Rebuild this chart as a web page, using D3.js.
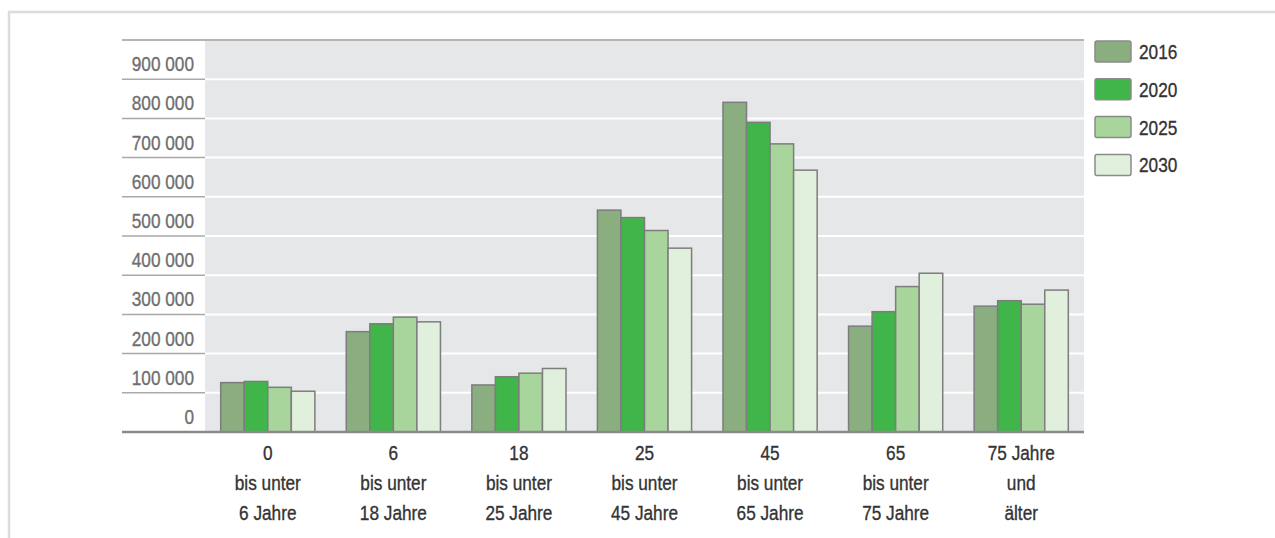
<!DOCTYPE html>
<html>
<head>
<meta charset="utf-8">
<script src="https://cdn.jsdelivr.net/npm/d3@7/dist/d3.min.js"></script>
<style>
  html, body { margin: 0; padding: 0; background: #fff; }
  svg { display: block; }
  text { font-family: "Liberation Sans", Arial, sans-serif; }
</style>
</head>
<body>
<svg id="chart" width="1275" height="538"></svg>
<script>
// Age groups (x axis, three lines each)
const categories = ["0–6", "6–18", "18–25", "25–45", "45–65", "65–75", "75+"];
const categoryLabels = [
  ["0", "bis unter", "6 Jahre"],
  ["6", "bis unter", "18 Jahre"],
  ["18", "bis unter", "25 Jahre"],
  ["25", "bis unter", "45 Jahre"],
  ["45", "bis unter", "65 Jahre"],
  ["65", "bis unter", "75 Jahre"],
  ["75 Jahre", "und", "älter"]
];

// Years shown as series
const years = ["2016", "2020", "2025", "2030"];

// Population per age group and year
const values2016 = [126000, 256000, 120000, 566000, 841000, 270000, 321000];
const values2020 = [129000, 276000, 141000, 547000, 790000, 307000, 335000];
const values2025 = [114000, 293000, 150000, 514000, 735000, 371000, 326000];
const values2030 = [104000, 281000, 162000, 469000, 668000, 405000, 362000];

// Y axis ticks
const yTicks = [0, 100000, 200000, 300000, 400000, 500000, 600000, 700000, 800000, 900000];
const yTickLabels = ["0", "100 000", "200 000", "300 000", "400 000", "500 000", "600 000", "700 000", "800 000", "900 000"];

const seriesValues = [values2016, values2020, values2025, values2030];
const colors = ["#8aae7f", "#40b549", "#a8d59b", "#e1f0dc"];

// condensed lettering: horizontal squeeze applied around each text anchor
const squeeze = 0.84;
const fontSize = 20.5;

const svg = d3.select("#chart");

function label(parent, xPos, yPos, str, anchor, fill) {
  return parent.append("g")
    .attr("transform", `translate(${xPos},${yPos}) scale(${squeeze},1)`)
    .append("text")
    .attr("text-anchor", anchor)
    .attr("font-size", fontSize)
    .attr("fill", fill)
    .attr("stroke", fill)
    .attr("stroke-width", 0.35)
    .text(str);
}

// frame
svg.append("line").attr("x1", 8).attr("x2", 1275).attr("y1", 12).attr("y2", 12)
  .attr("stroke", "#dcdcdc").attr("stroke-width", 2.5);
svg.append("line").attr("x1", 9).attr("x2", 9).attr("y1", 11).attr("y2", 538)
  .attr("stroke", "#dcdcdc").attr("stroke-width", 2.5);

const labelLeft = 122, plotLeft = 205, plotRight = 1084;

const y = d3.scaleLinear().domain([0, 1000000]).range([432, 40]);
const x = d3.scaleBand().domain(categories).range([plotLeft, plotRight])
  .paddingInner(0.25).paddingOuter(0.125);
const xs = d3.scaleBand().domain(years).range([0, x.bandwidth()]);

// plot background
svg.append("rect").attr("x", plotLeft).attr("y", y(1000000))
  .attr("width", plotRight - plotLeft).attr("height", y(0) - y(1000000))
  .attr("fill", "#e6e7e9");

// white gridlines inside plot
svg.append("g").selectAll("line").data(yTicks.filter(d => d > 0)).join("line")
  .attr("x1", plotLeft).attr("x2", plotRight)
  .attr("y1", d => y(d)).attr("y2", d => y(d))
  .attr("stroke", "#ffffff").attr("stroke-width", 2);

// separator lines in label column
svg.append("g").selectAll("line").data(yTicks.filter(d => d > 0)).join("line")
  .attr("x1", labelLeft).attr("x2", plotLeft)
  .attr("y1", d => y(d)).attr("y2", d => y(d))
  .attr("stroke", "#a9a9a9").attr("stroke-width", 1.5);

// top line
svg.append("line").attr("x1", labelLeft).attr("x2", plotRight)
  .attr("y1", y(1000000)).attr("y2", y(1000000))
  .attr("stroke", "#b4b4b4").attr("stroke-width", 2);

// y tick labels (sitting above their line)
const yLabels = svg.append("g");
yTicks.forEach((d, i) => label(yLabels, 194, y(d) - 8, yTickLabels[i], "end", "#6f6f6f"));

// bars
const groups = svg.append("g").selectAll("g").data(categories).join("g")
  .attr("transform", d => `translate(${x(d)},0)`);
groups.selectAll("rect")
  .data((c, ci) => years.map((yr, si) => ({ yr, si, v: seriesValues[si][ci] })))
  .join("rect")
  .attr("x", d => xs(d.yr))
  .attr("y", d => y(d.v))
  .attr("width", xs.bandwidth())
  .attr("height", d => y(0) - y(d.v))
  .attr("fill", d => colors[d.si])
  .attr("stroke", "#7d7d7d")
  .attr("stroke-width", 1.5);

// baseline
svg.append("line").attr("x1", labelLeft).attr("x2", plotRight)
  .attr("y1", y(0)).attr("y2", y(0))
  .attr("stroke", "#8a8a8a").attr("stroke-width", 2.5);

// x labels
const xLabels = svg.append("g");
categories.forEach((c, i) => {
  categoryLabels[i].forEach((line, li) => {
    label(xLabels, x(c) + x.bandwidth() / 2, 460 + li * 30, line, "middle", "#333333");
  });
});

// legend
const legend = svg.append("g").selectAll("g").data(years).join("g")
  .attr("transform", (d, i) => `translate(1095,${41 + i * 37.8})`);
legend.append("rect").attr("width", 36).attr("height", 21).attr("rx", 2)
  .attr("fill", (d, i) => colors[i]).attr("stroke", "#8a8a8a").attr("stroke-width", 1.5);
legend.each(function (d) {
  label(d3.select(this), 44, 18, d, "start", "#333333");
});
</script>
</body>
</html>
